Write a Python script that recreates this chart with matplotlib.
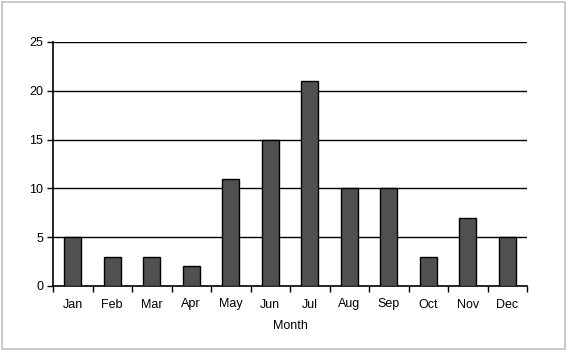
import matplotlib
matplotlib.use("Agg")
import matplotlib.pyplot as plt
from matplotlib.patches import Rectangle

months = ["Jan", "Feb", "Mar", "Apr", "May", "Jun", "Jul", "Aug", "Sep", "Oct", "Nov", "Dec"]
values = [5, 3, 3, 2, 11, 15, 21, 10, 10, 3, 7, 5]
yticks = [0, 5, 10, 15, 20, 25]

plt.rcParams['font.family'] = ['Liberation Sans', 'DejaVu Sans']
fig = plt.figure(figsize=(5.68, 3.52), dpi=100)
ax = fig.add_axes([53/568, 1-286/352, (527-53)/568, (286-42)/352])

x = list(range(len(months)))
ax.bar(x, values, width=0.42, color="#505050", edgecolor="black", linewidth=1.0, zorder=3)
ax.set_xlim(-0.5, len(months)-0.5)
ax.set_ylim(0, 25)
ax.set_yticks(yticks)
ax.set_yticklabels([str(v) for v in yticks], fontsize=9)
for v in yticks[1:]:
    ax.axhline(v, color="black", lw=1.0, zorder=1)
ax.set_xticks(x)
ax.set_xticklabels(months, fontsize=9)
ax.tick_params(axis='x', which='major', length=0, pad=9)
ax.set_xticks([i-0.5 for i in range(len(months)+1)], minor=True)
ax.tick_params(axis='x', which='minor', length=4, width=1, direction='out')
ax.tick_params(axis='y', length=4, width=1, direction='out', pad=3)
ax.spines['top'].set_visible(False)
ax.spines['right'].set_visible(False)
ax.spines['left'].set_linewidth(1.2)
ax.spines['bottom'].set_linewidth(1.2)
ax.set_xlabel("Month", fontsize=9, labelpad=7)

fig.patches.append(Rectangle((2/568, 1-349/352), (565-2)/568, (349-2)/352,
                             transform=fig.transFigure, fill=False,
                             edgecolor="#c0c0c0", linewidth=1.2))
fig.savefig("out.png", dpi=100)
